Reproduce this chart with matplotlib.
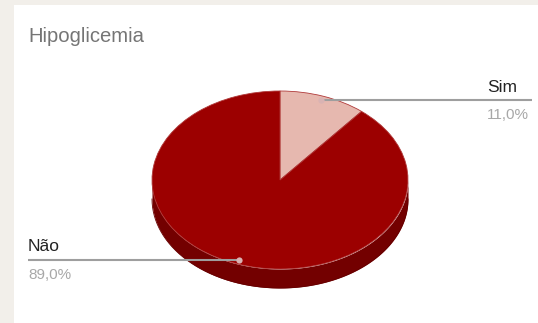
import numpy as np
import matplotlib.pyplot as plt
from matplotlib.patches import Rectangle

plt.rcParams['font.family'] = ['Liberation Sans', 'DejaVu Sans']

# --- Data
categories = ["Sim", "Não"]
shares = [11.0, 89.0]
pct_labels = ["11,0%", "89,0%"]
top_colors = ["#e6b8af", "#9c0000"]
side_colors = ["#b08a84", "#730000"]

# --- Figure: 538x323 px, beige frame with a white card
W, H, DPI = 538, 323, 100
fig = plt.figure(figsize=(W / DPI, H / DPI), dpi=DPI, facecolor="#f2efea")
fig.patches.append(Rectangle((14 / W, 0), 1 - 14 / W, 1 - 5 / H,
                             transform=fig.transFigure, facecolor="white",
                             edgecolor="none", zorder=-1))

ax = fig.add_axes([0, 0, 1, 1])
ax.patch.set_alpha(0)

# pie centre and radii in pixels -> axis limits so the unit circle becomes an ellipse
cx, cy, rx, ry, depth = 280, 180, 128, 89, 19
d = depth / ry

# slice angles (degrees, math convention), clockwise from 12 o'clock
fracs = np.array(shares) / sum(shares)
ends = 90 - 360 * np.cumsum(fracs)
starts = np.concatenate([[90], ends[:-1]])

# --- Extruded side: only the front (lower) half is visible
for a0, a1, col in zip(starts, ends, side_colors):
    lo, hi = max(a1, -180), min(a0, 0)
    if lo >= hi:
        continue
    t = np.radians(np.linspace(lo, hi, 200))
    x = np.cos(t)
    y = np.sin(t)
    ax.fill_between(x, y, y - d, color=col, linewidth=0, zorder=1)
    ax.plot(x, y - d, color="#660000", lw=0.6, zorder=1.5)

# --- Top face
wedges, _ = ax.pie(fracs, startangle=90, counterclock=False, colors=top_colors,
                   radius=1, center=(0, 0), frame=True,
                   wedgeprops=dict(linewidth=0.6, edgecolor="#b03a3a"))
for w in wedges:
    w.set_zorder(2)
ax.set_axis_off()
ax.set_xlim(-cx / rx, (W - cx) / rx)
ax.set_ylim(-(H - cy) / ry, cy / ry)
ax.set_aspect("auto")

# --- Leader lines and labels
line_end = (W - 6 - cx) / rx
r_dot = 0.95
for a0, a1, name, pct in zip(starts, ends, categories, pct_labels):
    mid = np.radians((a0 + a1) / 2)
    px, py = r_dot * np.cos(mid), r_dot * np.sin(mid)
    right = px > 0
    x_end = line_end if right else -line_end
    ax.plot([px, x_end], [py, py], color="#9e9e9e", lw=1.5, zorder=3,
            solid_capstyle="butt")
    ax.plot(px, py, "o", ms=4.5, color="#d9b3b3", mec="none", zorder=4)
    tx = x_end - 45 / rx if right else x_end
    ax.annotate(name, (tx, py), xytext=(0, 6.2), textcoords="offset points",
                ha="left", va="baseline", fontsize=12.5, color="#222222")
    ax.annotate(pct, (tx, py), xytext=(0, -13.7), textcoords="offset points",
                ha="left", va="baseline", fontsize=11, color="#a8a8a8")

fig.text(28 / W, 1 - 42 / H, "Hipoglicemia", ha="left", va="baseline",
         fontsize=14.6, color="#757575")

fig.savefig("out.png", dpi=DPI, facecolor=fig.get_facecolor())
